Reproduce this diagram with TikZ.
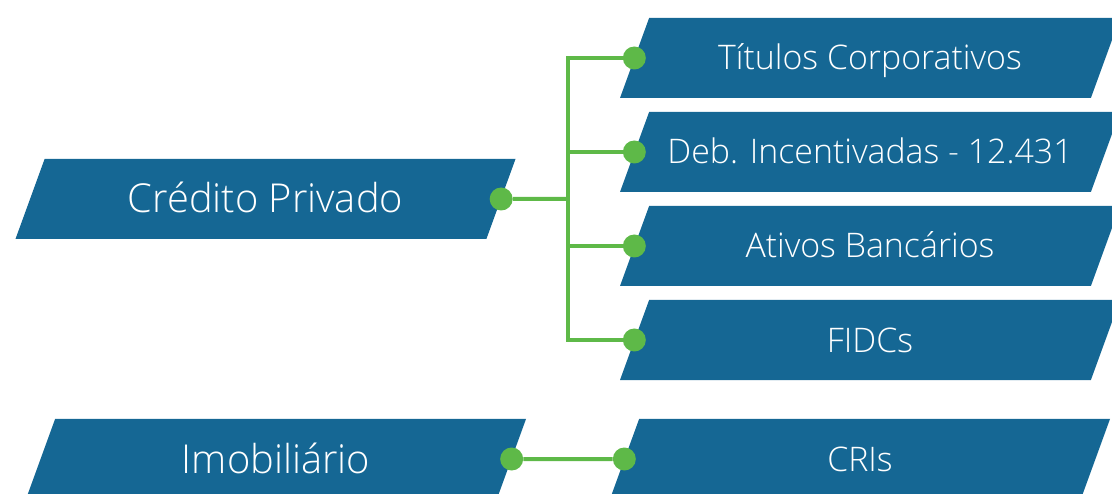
\documentclass[tikz,border=0pt]{standalone}
\usepackage{fontspec}
\setmainfont{Open Sans}[UprightFont=* Light]
\usetikzlibrary{shapes.geometric}
\definecolor{boxblue}{RGB}{21,103,148}
\definecolor{dotgreen}{RGB}{94,185,72}
\begin{document}
\begin{tikzpicture}[x=1bp,y=-1bp]
        \tikzset{para box/.style={trapezium,trapezium left angle=70,trapezium right angle=110,trapezium stretches body,fill=boxblue,minimum width=500bp,inner xsep=0pt,text depth=0pt,text=white}}
        \tikzset{big box/.style={para box,font=\fontsize{40}{40}\selectfont,text height=28bp,inner ysep=26bp}}
        \tikzset{small box/.style={para box,font=\fontsize{34}{34}\selectfont,text height=24bp,inner ysep=28bp}}
        \tikzset{link dot/.style={circle,fill=dotgreen,minimum size=23bp,inner sep=0pt}}
        \tikzset{link/.style={draw=dotgreen,line width=4bp}}

        \useasboundingbox (0,0) rectangle (1112,494);

        \node[big box] (credito) at (265.5,199) {Crédito Privado};
        \node[small box] (titulos) at (870,58) {Títulos Corporativos};
        \node[small box] (debentures) at (870,152) {Deb. Incentivadas - 12.431};
        \node[small box] (bancarios) at (870,246) {Ativos Bancários};
        \node[small box] (fidcs) at (870,340) {FIDCs};
        \node[big box] (imobiliario) at (276,459) {Imobiliário};
        \node[small box] (cris) at (860,459) {CRIs};

        \node[link dot] (d-credito) at (credito.east) {};
        \node[link dot] (d-titulos) at (titulos.west) {};
        \node[link dot] (d-debentures) at (debentures.west) {};
        \node[link dot] (d-bancarios) at (bancarios.west) {};
        \node[link dot] (d-fidcs) at (fidcs.west) {};
        \node[link dot] (d-imobiliario) at (imobiliario.east) {};
        \node[link dot] (d-cris) at (cris.west) {};

        \coordinate (split) at (568,199);
        \draw[link] (d-credito) -- (split);
        \draw[link] (split) |- (d-titulos);
        \draw[link] (split) |- (d-debentures);
        \draw[link] (split) |- (d-bancarios);
        \draw[link] (split) |- (d-fidcs);
        \draw[link] (d-imobiliario) -- (d-cris);
\end{tikzpicture}
\end{document}
